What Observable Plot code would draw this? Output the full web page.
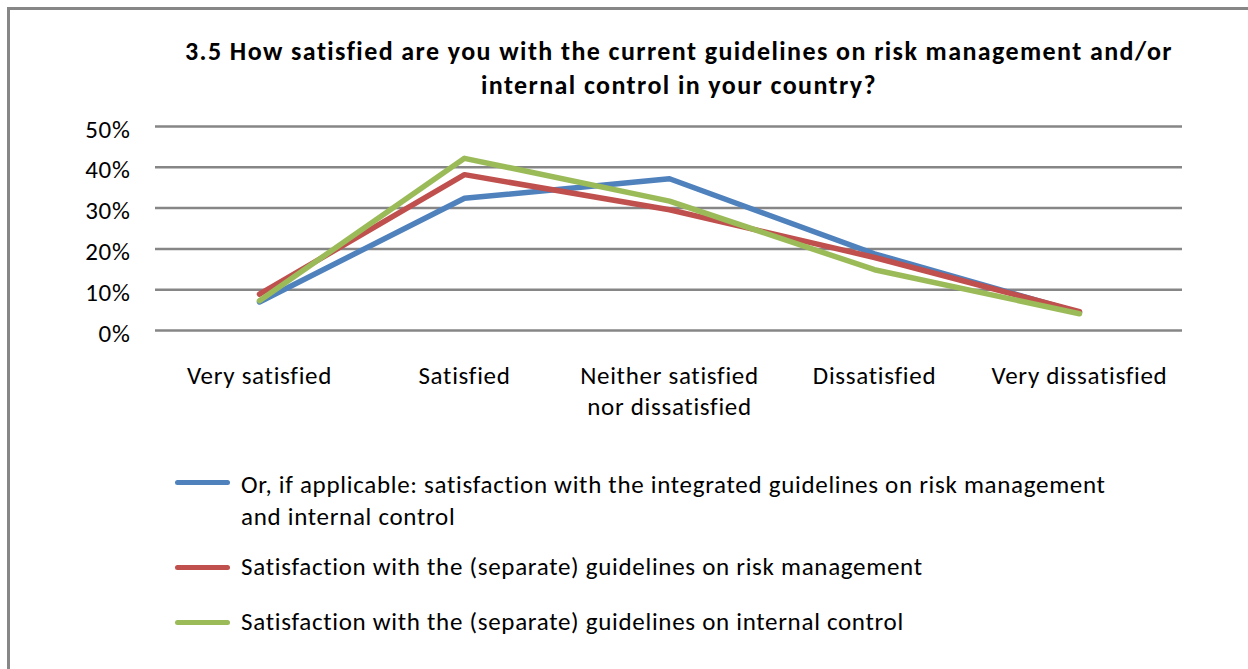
<!DOCTYPE html>
<html>
<head>
<meta charset="utf-8">
<script src="https://cdn.jsdelivr.net/npm/d3@7"></script>
<script src="https://cdn.jsdelivr.net/npm/@observablehq/plot@0.6"></script>
<style>
  html, body { margin: 0; padding: 0; background: #fff; }
  #root { position: relative; width: 1248px; height: 669px; overflow: hidden; background: #fff;
          font-family: Carlito, Lato, "Open Sans", sans-serif; color: #000; }
  #frame { position: absolute; left: 7px; top: 7px; width: 1400px; height: 800px;
           border-left: 3px solid #878787; border-top: 3px solid #878787; }
  #title { position: absolute; left: 0; top: 34px; width: 1358px; text-align: center;
           font-weight: bold; font-size: 26px; line-height: 34px; letter-spacing: 1.42px; }
  #chart { position: absolute; left: 0; top: 100px; }
  .leg { position: absolute; left: 175px; }
  .sw { position: absolute; left: 0; width: 55px; height: 5px; border-radius: 3px; }
  .lt { position: absolute; left: 66px; white-space: nowrap; font-size: 25px; line-height: 32px; letter-spacing: 0.7px; }
</style>
</head>
<body>
<div id="root">
  <div id="frame"></div>
  <div id="title"></div>
  <div id="chart"></div>
  <div id="legend"></div>
</div>
<script>
const title = ["3.5 How satisfied are you with the current guidelines on risk management and/or", "internal control in your country?"];
const categories = ["Very satisfied", "Satisfied", "Neither satisfied\nnor dissatisfied", "Dissatisfied", "Very dissatisfied"];
const seriesNames = [
  "Or, if applicable: satisfaction with the integrated guidelines on risk management\nand internal control",
  "Satisfaction with the (separate) guidelines on risk management",
  "Satisfaction with the (separate) guidelines on internal control"
];
const seriesColors = ["#4F81BD", "#C0504D", "#9BBB59"];
const integratedValues = [0.070, 0.324, 0.372, 0.188, 0.044];
const riskValues = [0.089, 0.382, 0.296, 0.179, 0.046];
const controlValues = [0.073, 0.422, 0.317, 0.149, 0.041];
const yTicks = [0, 0.1, 0.2, 0.3, 0.4, 0.5];

const seriesValues = [integratedValues, riskValues, controlValues];
const rows = [];
seriesValues.forEach((vals, s) => vals.forEach((v, i) => rows.push({series: seriesNames[s], category: categories[i], value: v})));

document.getElementById("title").innerHTML = title.join("<br>");

const chart = Plot.plot({
  width: 1248,
  height: 330,
  marginLeft: 155,
  marginRight: 66,
  marginTop: 26,
  marginBottom: 100,
  style: {fontFamily: "Carlito, Lato, 'Open Sans', sans-serif", color: "#000", background: "transparent", letterSpacing: "0.7px"},
  x: {type: "point", domain: categories, padding: 0.5},
  y: {domain: [0, 0.5]},
  color: {domain: seriesNames, range: seriesColors},
  marks: [
    Plot.ruleY(yTicks, {stroke: "#868686", strokeWidth: 2.5, strokeOpacity: 1}),
    Plot.axisY({ticks: yTicks, tickFormat: d3.format(".0%"), tickSize: 0, tickPadding: 25, fontSize: 25, dy: 3, label: null}),
    Plot.axisX({tickSize: 0, tickPadding: 31, fontSize: 25, lineHeight: 1.25, label: null}),
    Plot.line(rows, {x: "category", y: "value", z: "series", stroke: "series", strokeWidth: 5.5, strokeLinecap: "round", strokeLinejoin: "round"})
  ]
});
document.getElementById("chart").appendChild(chart);

const legendTops = [482, 567, 622];
const legendTextOffsets = [-13, -16, -16];
const legend = document.getElementById("legend");
seriesNames.forEach((name, i) => {
  const g = document.createElement("div");
  g.className = "leg";
  g.style.top = legendTops[i] + "px";
  const sw = document.createElement("div");
  sw.className = "sw";
  sw.style.background = seriesColors[i];
  sw.style.top = "-2.5px";
  const t = document.createElement("div");
  t.className = "lt";
  t.style.top = legendTextOffsets[i] + "px";
  t.innerHTML = name.split("\n").join("<br>");
  g.appendChild(sw);
  g.appendChild(t);
  legend.appendChild(g);
});
</script>
</body>
</html>
